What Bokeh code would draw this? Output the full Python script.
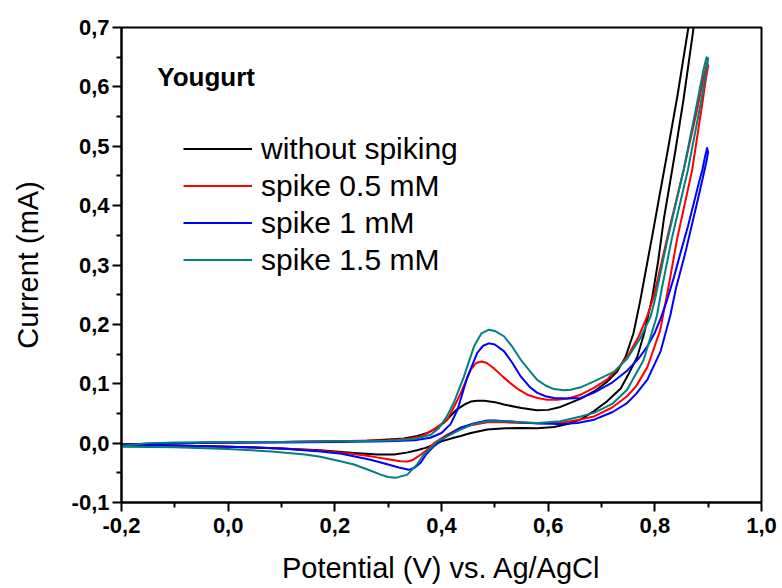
from bokeh.plotting import figure
from bokeh.models import (Range1d, FixedTicker, Legend, LegendItem, Label)
from bokeh.embed import file_html
from bokeh.resources import INLINE

# ---------------- data (potential V, current mA) ----------------
series_names = ["without spiking", "spike 0.5 mM", "spike 1 mM", "spike 1.5 mM"]
series_colors = ["#000000", "#FF0000", "#0000FF", "#008080"]

black_fwd_v = [-0.2, -0.1, 0.0, 0.1, 0.2, 0.26, 0.30, 0.329, 0.355, 0.373, 0.39, 0.404, 0.415, 0.429, 0.443, 0.455, 0.467, 0.48, 0.50, 0.517, 0.55, 0.579, 0.60, 0.623, 0.645, 0.661, 0.686, 0.71, 0.729, 0.745, 0.76, 0.772, 0.785, 0.798, 0.81, 0.823, 0.842, 0.862, 0.88, 0.90]
black_fwd_i = [-0.002, 0.000, 0.001, 0.002, 0.003, 0.004, 0.006, 0.008, 0.012, 0.017, 0.025, 0.034, 0.044, 0.057, 0.065, 0.070, 0.0715, 0.0715, 0.069, 0.065, 0.059, 0.0555, 0.056, 0.061, 0.069, 0.075, 0.087, 0.103, 0.120, 0.145, 0.185, 0.237, 0.30, 0.363, 0.423, 0.487, 0.583, 0.695, 0.80, 0.93]
black_rev_v = [0.90, 0.885, 0.872, 0.854, 0.839, 0.817, 0.806, 0.795, 0.78, 0.767, 0.75, 0.736, 0.71, 0.686, 0.661, 0.64, 0.611, 0.58, 0.548, 0.52, 0.486, 0.455, 0.436, 0.423, 0.40, 0.385, 0.37, 0.354, 0.335, 0.311, 0.28, 0.236, 0.173, 0.1, 0.0, -0.1, -0.2]
black_rev_i = [0.92, 0.79, 0.695, 0.58, 0.495, 0.378, 0.305, 0.245, 0.185, 0.145, 0.115, 0.092, 0.07, 0.054, 0.040, 0.033, 0.027, 0.025, 0.0255, 0.025, 0.023, 0.017, 0.012, 0.009, 0.003, -0.003, -0.008, -0.012, -0.016, -0.019, -0.019, -0.0165, -0.012, -0.009, -0.006, -0.004, -0.002]

red_fwd_v = [-0.2, -0.1, 0.0, 0.1, 0.2, 0.30, 0.34, 0.361, 0.38, 0.398, 0.411, 0.423, 0.436, 0.455, 0.465, 0.475, 0.485, 0.498, 0.515, 0.529, 0.545, 0.561, 0.58, 0.598, 0.617, 0.636, 0.661, 0.686, 0.71, 0.73, 0.75, 0.77, 0.785, 0.798, 0.823, 0.854, 0.879, 0.891, 0.898]
red_fwd_i = [-0.003, 0.000, 0.001, 0.002, 0.003, 0.005, 0.008, 0.011, 0.020, 0.031, 0.040, 0.060, 0.084, 0.124, 0.135, 0.1375, 0.135, 0.126, 0.112, 0.101, 0.090, 0.0815, 0.076, 0.073, 0.073, 0.075, 0.0815, 0.093, 0.107, 0.125, 0.148, 0.18, 0.212, 0.247, 0.345, 0.46, 0.56, 0.615, 0.64]
red_rev_v = [0.90, 0.896, 0.889, 0.87, 0.842, 0.825, 0.81, 0.786, 0.765, 0.748, 0.72, 0.686, 0.661, 0.623, 0.58, 0.548, 0.517, 0.486, 0.455, 0.436, 0.41, 0.386, 0.372, 0.357, 0.345, 0.336, 0.323, 0.30, 0.279, 0.267, 0.2125, 0.173, 0.1, 0.0, -0.1, -0.2]
red_rev_i = [0.635, 0.615, 0.572, 0.46, 0.345, 0.26, 0.19, 0.128, 0.096, 0.079, 0.06, 0.045, 0.040, 0.034, 0.034, 0.034, 0.035, 0.035, 0.030, 0.026, 0.014, 0.000, -0.012, -0.022, -0.029, -0.031, -0.0306, -0.027, -0.024, -0.022, -0.016, -0.013, -0.009, -0.006, -0.004, -0.003]

blue_fwd_v = [-0.2, -0.1, 0.0, 0.1, 0.2, 0.3, 0.35, 0.379, 0.40, 0.417, 0.43, 0.448, 0.467, 0.478, 0.489, 0.50, 0.517, 0.533, 0.548, 0.565, 0.579, 0.595, 0.611, 0.636, 0.661, 0.686, 0.72, 0.748, 0.77, 0.786, 0.80, 0.811, 0.823, 0.836, 0.848, 0.862, 0.873, 0.883, 0.889, 0.894, 0.898]
blue_fwd_i = [-0.003, 0.000, 0.001, 0.001, 0.002, 0.003, 0.005, 0.009, 0.017, 0.032, 0.056, 0.110, 0.152, 0.164, 0.168, 0.166, 0.155, 0.135, 0.113, 0.095, 0.085, 0.079, 0.076, 0.075, 0.076, 0.085, 0.102, 0.122, 0.143, 0.163, 0.186, 0.210, 0.241, 0.28, 0.32, 0.365, 0.404, 0.44, 0.46, 0.482, 0.497]
blue_rev_v = [0.90, 0.897, 0.892, 0.879, 0.857, 0.84, 0.829, 0.811, 0.786, 0.765, 0.748, 0.72, 0.686, 0.655, 0.623, 0.58, 0.548, 0.52, 0.50, 0.486, 0.46, 0.436, 0.41, 0.386, 0.372, 0.361, 0.35, 0.339, 0.32, 0.30, 0.267, 0.2125, 0.173, 0.1, 0.0, -0.1, -0.2]
blue_rev_i = [0.49, 0.475, 0.455, 0.404, 0.32, 0.262, 0.215, 0.155, 0.107, 0.083, 0.0675, 0.052, 0.0395, 0.034, 0.032, 0.033, 0.035, 0.037, 0.038, 0.038, 0.033, 0.026, 0.012, -0.005, -0.018, -0.033, -0.041, -0.045, -0.041, -0.036, -0.028, -0.018, -0.014, -0.009, -0.006, -0.004, -0.003]

teal_fwd_v = [-0.2, -0.15, -0.1, 0.0, 0.1, 0.2, 0.3, 0.35, 0.38, 0.395, 0.41, 0.423, 0.442, 0.461, 0.475, 0.489, 0.50, 0.517, 0.533, 0.549, 0.565, 0.579, 0.595, 0.611, 0.63, 0.642, 0.661, 0.686, 0.723, 0.748, 0.773, 0.792, 0.80, 0.823, 0.854, 0.879, 0.891, 0.897]
teal_fwd_i = [-0.005, 0.000, 0.001, 0.002, 0.002, 0.003, 0.004, 0.007, 0.014, 0.025, 0.045, 0.068, 0.112, 0.163, 0.185, 0.191, 0.189, 0.180, 0.162, 0.140, 0.122, 0.107, 0.097, 0.091, 0.089, 0.090, 0.094, 0.104, 0.120, 0.142, 0.177, 0.213, 0.241, 0.34, 0.46, 0.572, 0.628, 0.65]
teal_rev_v = [0.90, 0.896, 0.886, 0.862, 0.832, 0.813, 0.804, 0.779, 0.748, 0.72, 0.686, 0.661, 0.623, 0.58, 0.548, 0.52, 0.486, 0.46, 0.436, 0.41, 0.392, 0.38, 0.367, 0.355, 0.336, 0.314, 0.30, 0.286, 0.26, 0.236, 0.2125, 0.173, 0.144, 0.081, 0.0, -0.1, -0.2]
teal_rev_i = [0.648, 0.625, 0.572, 0.46, 0.345, 0.26, 0.215, 0.14, 0.09, 0.066, 0.051, 0.045, 0.037, 0.034, 0.035, 0.037, 0.037, 0.032, 0.023, 0.011, 0.003, -0.008, -0.019, -0.035, -0.053, -0.0585, -0.057, -0.053, -0.044, -0.036, -0.031, -0.023, -0.019, -0.014, -0.010, -0.007, -0.006]

x_ticks = [-0.2, 0.0, 0.2, 0.4, 0.6, 0.8, 1.0]
x_tick_labels = ["-0,2", "0,0", "0,2", "0,4", "0,6", "0,8", "1,0"]
x_minor = [-0.1, 0.1, 0.3, 0.5, 0.7, 0.9]
y_ticks = [-0.1, 0.0, 0.1, 0.2, 0.3, 0.4, 0.5, 0.6, 0.7]
y_tick_labels = ["-0,1", "0,0", "0,1", "0,2", "0,3", "0,4", "0,5", "0,6", "0,7"]
y_minor = [-0.05, 0.05, 0.15, 0.25, 0.35, 0.45, 0.55, 0.65]

title_text = "Yougurt"
x_title = "Potential (V) vs. Ag/AgCl"
y_title = "Current (mA)"

# ---------------- figure ----------------
FONT = "Liberation Sans"
p = figure(width=780, height=586, output_backend="svg", toolbar_location=None,
           x_range=Range1d(-0.2, 1.0), y_range=Range1d(-0.1, 0.7),
           min_border_left=121, min_border_right=19, min_border_top=27, min_border_bottom=83)
p.grid.visible = False
p.background_fill_color = "white"
p.border_fill_color = "white"
p.outline_line_color = "black"
p.outline_line_width = 2

curves = [(black_fwd_v + black_rev_v, black_fwd_i + black_rev_i),
          (red_fwd_v + red_rev_v, red_fwd_i + red_rev_i),
          (blue_fwd_v + blue_rev_v, blue_fwd_i + blue_rev_i),
          (teal_fwd_v + teal_rev_v, teal_fwd_i + teal_rev_i)]
items = []
for (xs, ys), name, col in zip(curves, series_names, series_colors):
    r = p.line(xs, ys, line_color=col, line_width=2, line_join="round")
    items.append(LegendItem(label=name, renderers=[r]))

legend = Legend(items=items, location=(62, 224), label_text_font=FONT,
                label_text_font_size="30px", label_text_color="black",
                glyph_width=69, glyph_height=37, label_height=37, label_standoff=9,
                spacing=0, padding=0, margin=0, border_line_alpha=0,
                background_fill_alpha=0)
p.add_layout(legend)

p.add_layout(Label(x=-0.133, y=0.617, text=title_text, text_font=FONT,
                   text_font_size="26px", text_font_style="bold",
                   text_color="black", text_baseline="alphabetic"))

for ax, ticks, labels, minor in [(p.xaxis[0], x_ticks, x_tick_labels, x_minor),
                                  (p.yaxis[0], y_ticks, y_tick_labels, y_minor)]:
    ax.ticker = FixedTicker(ticks=ticks, minor_ticks=minor)
    ax.major_label_overrides = {t: l for t, l in zip(ticks, labels)}
    ax.axis_line_width = 2
    ax.axis_line_color = "black"
    ax.major_tick_line_width = 2
    ax.minor_tick_line_width = 2
    ax.major_tick_in = 0
    ax.minor_tick_in = 0
    ax.major_tick_out = 9
    ax.minor_tick_out = 5
    ax.major_label_text_font = FONT
    ax.major_label_text_font_size = "22px"
    ax.major_label_text_font_style = "bold"
    ax.major_label_text_color = "black"
    ax.axis_label_text_font = FONT
    ax.axis_label_text_font_size = "29px"
    ax.axis_label_text_font_style = "normal"
    ax.axis_label_text_color = "black"

p.xaxis.axis_label = x_title
p.yaxis.axis_label = y_title
p.xaxis.major_label_standoff = 6
p.yaxis.major_label_standoff = 3
p.xaxis.axis_label_standoff = 16
p.yaxis.axis_label_standoff = 25

open("out.html", "w").write(file_html(p, INLINE))
